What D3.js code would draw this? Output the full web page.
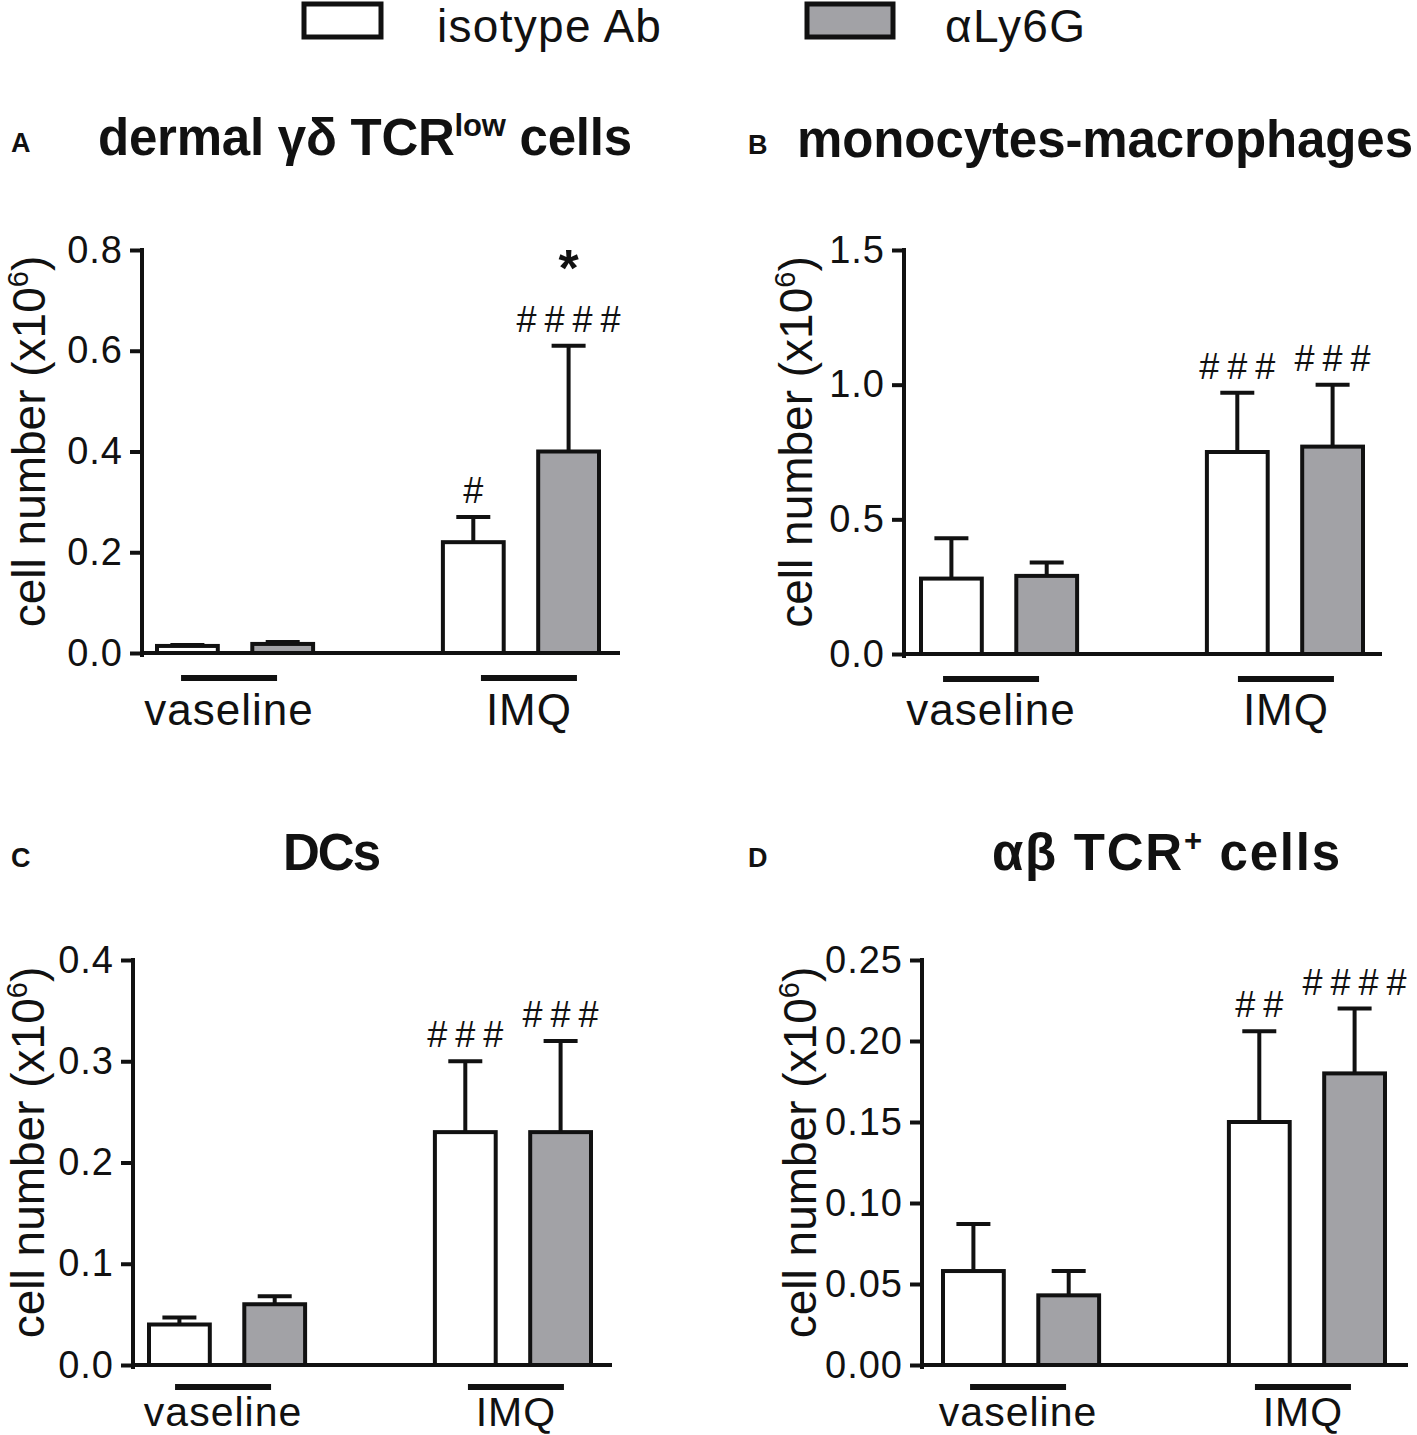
<!DOCTYPE html>
<html>
<head>
<meta charset="utf-8">
<script src="https://cdn.jsdelivr.net/npm/d3@7"></script>
<style>
  body { margin: 0; background: #fff; }
  svg { display: block; }
  text { font-family: "Liberation Sans", Arial, sans-serif; fill: #111; }
</style>
</head>
<body>
<svg id="chart" width="1417" height="1435"></svg>
<script>
// categories
const groups = ['vaseline', 'IMQ']
const series = ['isotype Ab', 'αLy6G']

// A: dermal γδ TCRlow cells (x10^6)
const dermalIso = [0.014, 0.22]
const dermalIsoSem = [0.002, 0.05]
const dermalLy6G = [0.018, 0.40]
const dermalLy6GSem = [0.004, 0.21]
const dermalIsoMarks = ['', '#']
const dermalLy6GMarks = ['', '####']
const dermalLy6GStars = ['', '*']
const dermalTicks = [0, 0.2, 0.4, 0.6, 0.8]

// B: monocytes-macrophages
const monoIso = [0.28, 0.75]
const monoIsoSem = [0.15, 0.22]
const monoLy6G = [0.29, 0.77]
const monoLy6GSem = [0.05, 0.23]
const monoIsoMarks = ['', '###']
const monoLy6GMarks = ['', '###']
const monoTicks = [0, 0.5, 1.0, 1.5]

// C: DCs
const dcIso = [0.040, 0.23]
const dcIsoSem = [0.007, 0.07]
const dcLy6G = [0.060, 0.23]
const dcLy6GSem = [0.008, 0.09]
const dcIsoMarks = ['', '###']
const dcLy6GMarks = ['', '###']
const dcTicks = [0, 0.1, 0.2, 0.3, 0.4]

// D: αβ TCR+ cells
const abIso = [0.058, 0.15]
const abIsoSem = [0.029, 0.056]
const abLy6G = [0.043, 0.18]
const abLy6GSem = [0.015, 0.04]
const abIsoMarks = ['', '##']
const abLy6GMarks = ['', '####']
const abTicks = [0, 0.05, 0.10, 0.15, 0.20, 0.25]

const GREY = '#a2a2a6'
const svg = d3.select('#chart')

// legend
const legend = [
  {name: series[0], fill: '#fff', x: 304, w: 77, tx: 437},
  {name: series[1], fill: GREY, x: 807, w: 86, tx: 945},
]
legend.forEach((d) => {
  svg.append('rect')
    .attr('x', d.x).attr('y', 4)
    .attr('width', d.w).attr('height', 33)
    .attr('fill', d.fill).attr('stroke', '#111').attr('stroke-width', 5)
  svg.append('text')
    .attr('x', d.tx).attr('y', 42)
    .attr('font-size', 46).attr('letter-spacing', 1.3)
    .text(d.name)
})

const panels = [
  {
    letter: 'A', title: [['dermal γδ TCR', 0], ['low', 1], [' cells', 0]], titleW: 534,
    iso: dermalIso, isoSem: dermalIsoSem, ly: dermalLy6G, lySem: dermalLy6GSem,
    isoMarks: dermalIsoMarks, lyMarks: dermalLy6GMarks, lyStars: dermalLy6GStars,
    ticks: dermalTicks, fmt: '.1f',
    axisX: 142, barX: 155, xEnd: 620, y0: 653, yTop: 250,
    titleX: 365, titleY: 155, letterX: 11, labelX: 45, lineOff: [-6, 8], lineDy: 25,
    groupLabelY: 725, groupLabelSize: 44,
  },
  {
    letter: 'B', title: [['monocytes-macrophages', 0]], titleW: 616,
    iso: monoIso, isoSem: monoIsoSem, ly: monoLy6G, lySem: monoLy6GSem,
    isoMarks: monoIsoMarks, lyMarks: monoLy6GMarks,
    ticks: monoTicks, fmt: '.1f',
    axisX: 904, barX: 919, xEnd: 1382, y0: 654, yTop: 250,
    titleX: 1105, titleY: 157, letterX: 748, labelX: 812, lineOff: [-8, 1], lineDy: 25,
    groupLabelY: 725, groupLabelSize: 44,
  },
  {
    letter: 'C', title: [['DCs', 0]], titleW: 98,
    iso: dcIso, isoSem: dcIsoSem, ly: dcLy6G, lySem: dcLy6GSem,
    isoMarks: dcIsoMarks, lyMarks: dcLy6GMarks,
    ticks: dcTicks, fmt: '.1f',
    axisX: 133, barX: 147, xEnd: 612, y0: 1365, yTop: 960,
    titleX: 332, titleY: 870, letterX: 11, labelX: 44, lineOff: [-4, 3], lineDy: 22,
    groupLabelY: 1426, groupLabelSize: 41,
  },
  {
    letter: 'D', title: [['αβ TCR', 0], ['+', 1], [' cells', 0]], titleW: 348,
    iso: abIso, isoSem: abIsoSem, ly: abLy6G, lySem: abLy6GSem,
    isoMarks: abIsoMarks, lyMarks: abLy6GMarks,
    ticks: abTicks, fmt: '.2f',
    axisX: 922, barX: 941, xEnd: 1408, y0: 1365, yTop: 960,
    titleX: 1166, titleY: 870, letterX: 748, labelX: 816, lineOff: [-3, -4], lineDy: 22,
    groupLabelY: 1426, groupLabelSize: 41,
  },
]

panels.forEach(drawPanel)

function drawPanel(p) {
  const g = svg.append('g')

  // panel letter and title
  g.append('text')
    .attr('x', p.letterX).attr('y', p.titleY - 3)
    .attr('font-size', 27).attr('font-weight', 'bold')
    .text(p.letter)

  const title = g.append('text')
    .attr('x', p.titleX).attr('y', p.titleY)
    .attr('text-anchor', 'middle')
    .attr('font-size', 51).attr('font-weight', 'bold')
    .attr('textLength', p.titleW)
  p.title.forEach(([t, sup], i) => {
    const prevSup = i > 0 && p.title[i - 1][1]
    title.append('tspan')
      .attr('font-size', sup ? 31 : 51)
      .attr('dy', sup ? -19 : (prevSup ? 19 : 0))
      .text(t)
  })

  // scales
  const y = d3.scaleLinear()
    .domain([0, d3.max(p.ticks)])
    .range([p.y0, p.yTop])

  const x = d3.scaleBand()
    .domain(groups)
    .range([p.barX, p.barX + 446])
    .paddingInner(0.44)

  const xs = d3.scaleBand()
    .domain(series)
    .range([0, x.bandwidth()])
    .paddingInner(0.32)

  // y axis
  const yAxis = d3.axisLeft(y)
    .tickValues(p.ticks)
    .tickFormat(d3.format(p.fmt))
    .tickSize(12)
    .tickSizeOuter(0)
    .tickPadding(7)

  const ag = g.append('g')
    .attr('transform', `translate(${p.axisX},0)`)
    .call(yAxis)
  ag.select('.domain')
    .attr('stroke', '#111').attr('stroke-width', 4)
    .attr('d', `M0,${p.yTop - 2}V${p.y0 + 4}`)
  ag.selectAll('.tick line').attr('stroke', '#111').attr('stroke-width', 4)
  ag.selectAll('.tick text')
    .attr('font-family', '"Liberation Sans", Arial, sans-serif')
    .attr('font-size', 38).attr('letter-spacing', 1)
    .attr('fill', '#111')

  // x axis line
  g.append('line')
    .attr('x1', p.axisX).attr('x2', p.xEnd)
    .attr('y1', p.y0).attr('y2', p.y0)
    .attr('stroke', '#111').attr('stroke-width', 4)

  // y axis label
  const yl = g.append('text')
    .attr('transform', `translate(${p.labelX},${(p.y0 + p.yTop) / 2 - 10}) rotate(-90)`)
    .attr('text-anchor', 'middle')
    .attr('font-size', 46)
  yl.append('tspan').text('cell number (x10')
  yl.append('tspan').attr('font-size', 29).attr('dy', -17).text('6')
  yl.append('tspan').attr('dy', 17).text(')')

  // bars
  const rows = []
  groups.forEach((grp, i) => {
    rows.push({grp, s: series[0], v: p.iso[i], sem: p.isoSem[i], mark: p.isoMarks[i], star: '', fill: '#fff'})
    rows.push({grp, s: series[1], v: p.ly[i], sem: p.lySem[i], mark: p.lyMarks[i],
      star: p.lyStars ? p.lyStars[i] : '', fill: GREY})
  })

  const bx = (d) => x(d.grp) + xs(d.s)
  const bw = xs.bandwidth()

  // error bars (upper only), drawn behind the bars
  g.selectAll('.err')
    .data(rows)
    .join('line')
    .attr('class', 'err')
    .attr('x1', (d) => bx(d) + bw / 2).attr('x2', (d) => bx(d) + bw / 2)
    .attr('y1', (d) => y(d.v)).attr('y2', (d) => y(d.v + d.sem))
    .attr('stroke', '#111').attr('stroke-width', 4)

  g.selectAll('.cap')
    .data(rows)
    .join('line')
    .attr('class', 'cap')
    .attr('x1', (d) => bx(d) + bw / 2 - 17).attr('x2', (d) => bx(d) + bw / 2 + 17)
    .attr('y1', (d) => y(d.v + d.sem)).attr('y2', (d) => y(d.v + d.sem))
    .attr('stroke', '#111').attr('stroke-width', 4)

  g.selectAll('.bar')
    .data(rows)
    .join('rect')
    .attr('class', 'bar')
    .attr('x', (d) => bx(d) + 2)
    .attr('width', bw - 4)
    .attr('y', (d) => y(d.v))
    .attr('height', (d) => p.y0 - y(d.v))
    .attr('fill', (d) => d.fill)
    .attr('stroke', '#111').attr('stroke-width', 4)

  // significance marks
  g.selectAll('.mark')
    .data(rows.filter((d) => d.mark))
    .join('text')
    .attr('class', 'mark')
    .attr('x', (d) => bx(d) + bw / 2 + 4)
    .attr('y', (d) => y(d.v + d.sem) - 14)
    .attr('text-anchor', 'middle')
    .attr('font-size', 36).attr('letter-spacing', 8)
    .text((d) => d.mark)

  g.selectAll('.star')
    .data(rows.filter((d) => d.star))
    .join('text')
    .attr('class', 'star')
    .attr('x', (d) => bx(d) + bw / 2)
    .attr('y', (d) => y(d.v + d.sem) - 60)
    .attr('text-anchor', 'middle')
    .attr('font-size', 52).attr('font-weight', 'bold')
    .text((d) => d.star)

  // group underlines and labels
  groups.forEach((grp, i) => {
    const cx = x(grp) + x.bandwidth() / 2 + p.lineOff[i]
    g.append('line')
      .attr('x1', cx - 48).attr('x2', cx + 48)
      .attr('y1', p.y0 + p.lineDy).attr('y2', p.y0 + p.lineDy)
      .attr('stroke', '#111').attr('stroke-width', 6)
    g.append('text')
      .attr('x', cx).attr('y', p.groupLabelY)
      .attr('text-anchor', 'middle')
      .attr('font-size', p.groupLabelSize).attr('letter-spacing', 1)
      .text(grp)
  })
}
</script>
</body>
</html>
